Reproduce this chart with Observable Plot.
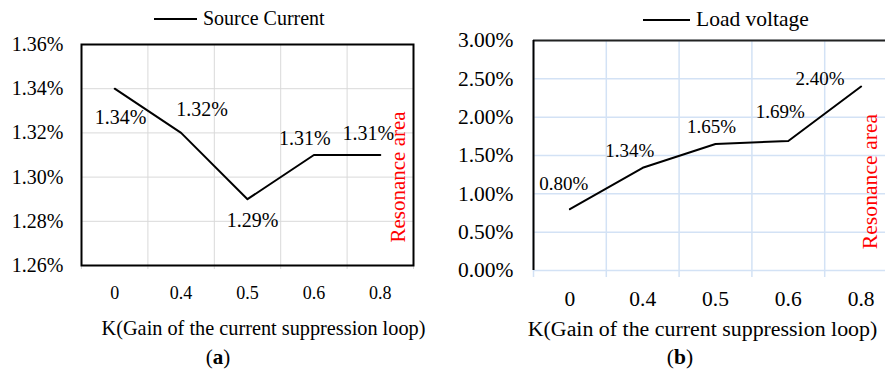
<!DOCTYPE html>
<html>
<head>
<meta charset="utf-8">
<script src="https://cdn.jsdelivr.net/npm/d3@7"></script>
<script src="https://cdn.jsdelivr.net/npm/@observablehq/plot@0.6"></script>
<style>
  html, body { margin: 0; padding: 0; background: #fff; overflow: hidden; }
  #root { position: relative; width: 885px; height: 370px; overflow: hidden; }
  .panel { position: absolute; top: 0; }
  .legend { position: absolute; display: flex; align-items: center; font-family: "Liberation Serif", "Times New Roman", serif; color: #000; white-space: nowrap; }
  .legend .swatch { display: inline-block; height: 0; border-top: 2px solid #000; margin-right: 6px; }
  .caption { position: absolute; font-family: "Liberation Serif", "Times New Roman", serif; color: #000; transform: translateX(-50%); white-space: nowrap; }
</style>
</head>
<body>
<div id="root"></div>
<script>
// Gain settings of the current suppression loop (shared x categories)
const gainK = ["0", "0.4", "0.5", "0.6", "0.8"];

// (a) source current THD, percent
const sourceCurrent = [1.34, 1.32, 1.29, 1.31, 1.31];
const sourceTicks = [1.26, 1.28, 1.30, 1.32, 1.34, 1.36];

// (b) load voltage THD, percent
const loadVoltage = [0.80, 1.34, 1.65, 1.69, 2.40];
const loadTicks = [0, 0.5, 1.0, 1.5, 2.0, 2.5, 3.0];

const axisTitle = "K(Gain of the current suppression loop)";
const noteText = "Resonance area";

// label offsets (px) relative to each point, per panel
const labelOffsetA = [[6, 29], [21, -23], [5, 21], [-9, -16], [-12, -21]];
const labelOffsetB = [[-6, -25], [-13, -17], [-4, -17], [-8, -29], [-41, -8]];

const serif = "Liberation Serif, Times New Roman, serif";
const sans = "Liberation Sans, Arial, sans-serif";
const pct = d => d.toFixed(2) + "%";

const rowsA = gainK.map((k, i) => ({i, k, v: sourceCurrent[i], dx: labelOffsetA[i][0], dy: labelOffsetA[i][1]}));
const rowsB = gainK.map((k, i) => ({i, k, v: loadVoltage[i], dx: labelOffsetB[i][0], dy: labelOffsetB[i][1]}));
// category band boundaries
const bounds = d3.range(gainK.length + 1).map(j => j - 0.5);

function valueLabels(rows, tag, size) {
  return rows.map(r => Plot.text([r], {
    x: "i", y: "v", text: d => pct(d.v), dx: r.dx, dy: r.dy, ariaLabel: tag,
    fontSize: size, fill: "#000", textAnchor: "middle", lineAnchor: "middle"
  }));
}

// ---------- panel (a) ----------
const plotA = Plot.plot({
  width: 440, height: 370,
  marginLeft: 81, marginRight: 27, marginTop: 44, marginBottom: 105,
  style: {background: "transparent", overflow: "visible", fontFamily: serif},
  x: {type: "linear", domain: [-0.5, gainK.length - 0.5], axis: null},
  y: {domain: [1.26, 1.36], axis: null},
  marks: [
    Plot.gridY(sourceTicks, {stroke: "#d9d9d9", strokeOpacity: 1, strokeWidth: 1}),
    Plot.ruleX(bounds, {stroke: "#d9d9d9", strokeWidth: 1, insetBottom: -4}),
    Plot.axisY(sourceTicks, {tickSize: 0, tickPadding: 18, tickFormat: pct, fontSize: 20, fill: "#000", label: null}),
    Plot.axisX(d3.range(gainK.length), {tickSize: 0, tickPadding: 21, tickFormat: i => gainK[i], fontSize: 18, fill: "#000", label: null, ariaLabel: "sans"}),
    Plot.frame({stroke: "#000", strokeWidth: 2}),
    Plot.line(rowsA, {x: "i", y: "v", stroke: "#000", strokeWidth: 2}),
    ...valueLabels(rowsA, "value", 20),
    Plot.text([noteText], {frameAnchor: "right", rotate: -90, dx: -15, dy: 22, fill: "#ff0000", fontSize: 21, textAnchor: "middle", lineAnchor: "middle"}),
    Plot.text([axisTitle], {frameAnchor: "bottom", dy: 63, dx: 16, fill: "#000", fontSize: 20.3, textAnchor: "middle", lineAnchor: "middle"})
  ]
});

// ---------- panel (b) ----------
const plotB = Plot.plot({
  width: 457, height: 370,
  marginLeft: 93, marginRight: 0, marginTop: 40, marginBottom: 100,
  style: {background: "transparent", overflow: "visible", fontFamily: serif},
  x: {type: "linear", domain: [-0.5, gainK.length - 0.5], axis: null},
  y: {domain: [0, 3], axis: null},
  marks: [
    Plot.gridY(loadTicks, {stroke: "#d3e2f5", strokeOpacity: 1, strokeWidth: 1.5}),
    Plot.ruleX(bounds, {stroke: "#d3e2f5", strokeWidth: 1.5, insetBottom: -7}),
    Plot.axisY(loadTicks, {tickSize: 0, tickPadding: 20, tickFormat: pct, fontSize: 21.5, fill: "#000", label: null}),
    Plot.axisX(d3.range(gainK.length), {tickSize: 0, tickPadding: 20, tickFormat: i => gainK[i], fontSize: 21.5, fill: "#000", label: null}),
    Plot.ruleY([3], {stroke: "#222", strokeWidth: 2}),
    Plot.ruleX([-0.5], {stroke: "#000", strokeWidth: 2}),
    Plot.line(rowsB, {x: "i", y: "v", stroke: "#000", strokeWidth: 2}),
    ...valueLabels(rowsB, "sans", 19),
    Plot.text([noteText], {frameAnchor: "right", rotate: -90, dx: -27, dy: 26, fill: "#ff0000", fontSize: 21.7, textAnchor: "middle", lineAnchor: "middle"}),
    Plot.text([axisTitle], {frameAnchor: "bottom", dy: 58, dx: -13, fill: "#000", fontSize: 21.9, textAnchor: "middle", lineAnchor: "middle"})
  ]
});

// typefaces: serif throughout, sans for the tagged groups
for (const svg of [plotA, plotB]) {
  d3.select(svg).selectAll("text").style("font-family", serif);
  d3.select(svg).selectAll("g[aria-label='sans'] text").style("font-family", sans);
}

const root = document.getElementById("root");
plotA.classList.add("panel"); plotA.style.left = "0px";
plotB.classList.add("panel"); plotB.style.left = "440px";
root.appendChild(plotA);
root.appendChild(plotB);

function addLegend(left, top, lineW, text, size) {
  const el = document.createElement("div");
  el.className = "legend";
  el.style.left = left + "px"; el.style.top = top + "px"; el.style.fontSize = size + "px";
  const sw = document.createElement("span"); sw.className = "swatch"; sw.style.width = lineW + "px";
  el.appendChild(sw);
  el.appendChild(document.createTextNode(text));
  root.appendChild(el);
}
addLegend(154, 7, 43, "Source Current", 20);
addLegend(643, 7, 47, "Load voltage", 21.5);

function addCaption(cx, top, letter, size) {
  const el = document.createElement("div");
  el.className = "caption";
  el.style.left = cx + "px"; el.style.top = top + "px"; el.style.fontSize = size + "px";
  el.innerHTML = "(<b>" + letter + "</b>)";
  root.appendChild(el);
}
addCaption(218, 345, "a", 21);
addCaption(680, 345, "b", 21.5);
</script>
</body>
</html>
